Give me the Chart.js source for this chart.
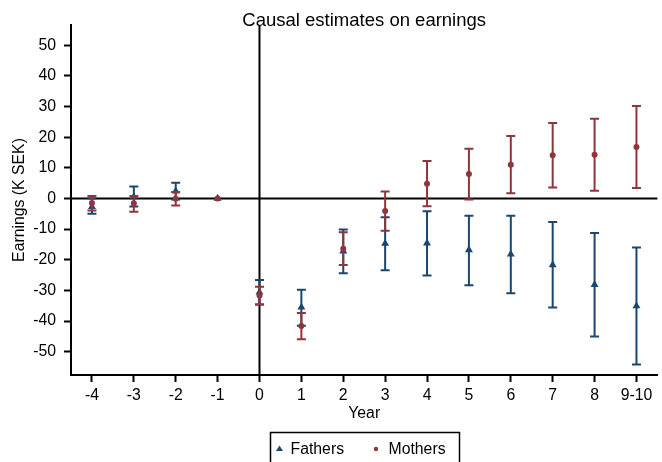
<!DOCTYPE html>
<html>
<head>
<meta charset="utf-8">
<script src="https://cdn.jsdelivr.net/npm/chart.js@4/dist/chart.umd.min.js"></script>
<style>
  html, body { margin: 0; padding: 0; background: #fff; }
  #wrap { width: 662px; height: 462px; }
</style>
</head>
<body>
<div id="wrap"><canvas id="c" width="662" height="462"></canvas></div>
<script>
// Event-study years relative to birth
const years = ['-4', '-3', '-2', '-1', '0', '1', '2', '3', '4', '5', '6', '7', '8', '9-10'];

// Fathers: point estimates and 95% confidence bounds (K SEK)
const fathersEst = [-2.7, 0.5, 2.4, 0, -30.6, -35.5, -17.2, -14.7, -14.6, -16.8, -18.2, -21.7, -28.1, -35.1];
const fathersLo  = [-5.0, -2.6, -0.3, null, -34.6, -41.5, -24.4, -23.4, -25.1, -28.3, -30.9, -35.6, -45.0, -54.2];
const fathersHi  = [0.0, 3.9, 5.1, null, -26.6, -29.8, -10.1, -6.1, -4.2, -5.6, -5.6, -7.7, -11.3, -16.0];

// Mothers: point estimates and 95% confidence bounds (K SEK)
const mothersEst = [-1.5, -1.6, -0.1, 0, -31.7, -41.6, -16.4, -4.1, 4.8, 8.0, 11.0, 14.1, 14.3, 16.8];
const mothersLo  = [-3.9, -4.3, -2.3, null, -34.6, -45.9, -21.7, -10.5, -2.5, -0.3, 1.7, 3.6, 2.5, 3.4];
const mothersHi  = [0.8, 0.8, 2.1, null, -28.8, -37.4, -11.0, 2.3, 12.2, 16.2, 20.4, 24.6, 26.0, 30.2];

// Y axis tick values
const yTicks = [-50, -40, -30, -20, -10, 0, 10, 20, 30, 40, 50];

const NAVY = '#1a476f';
const MAROON = '#90353b';
const FONT = 'Liberation Sans, Arial, Helvetica, sans-serif';

// Confidence-interval whiskers with caps, drawn under each dataset's markers
const errorBars = {
  id: 'errorBars',
  beforeDatasetDraw(chart, args) {
    const ds = chart.data.datasets[args.index];
    if (!ds.lo) return;
    const x = chart.scales.x, y = chart.scales.y, ctx = chart.ctx;
    ctx.save();
    ctx.strokeStyle = ds.borderColor;
    ctx.lineWidth = 2;
    ctx.lineCap = 'butt';
    for (let i = 0; i < ds.data.length; i++) {
      const lo = ds.lo[i], hi = ds.hi[i];
      if (lo == null || hi == null) continue;
      const px = x.getPixelForValue(i);
      const y1 = y.getPixelForValue(lo), y2 = y.getPixelForValue(hi);
      ctx.beginPath();
      ctx.moveTo(px, y1); ctx.lineTo(px, y2);
      ctx.moveTo(px - 4.5, y1); ctx.lineTo(px + 4.5, y1);
      ctx.moveTo(px - 4.5, y2); ctx.lineTo(px + 4.5, y2);
      ctx.stroke();
    }
    ctx.restore();
  }
};

// Reference lines at year 0 and at zero effect
const refLines = {
  id: 'refLines',
  beforeDatasetsDraw(chart) {
    const {ctx, chartArea: a, scales: {x, y}} = chart;
    const px = x.getPixelForValue(years.indexOf('0'));
    const py = y.getPixelForValue(0);
    ctx.save();
    ctx.strokeStyle = '#000';
    ctx.lineWidth = 2;
    ctx.beginPath();
    ctx.moveTo(px, a.top); ctx.lineTo(px, a.bottom);
    ctx.moveTo(a.left, py); ctx.lineTo(a.right, py);
    ctx.stroke();
    ctx.restore();
  }
};

// Title centred over the plot region, and a boxed legend below the axis
const decorations = {
  id: 'decorations',
  afterDraw(chart) {
    const {ctx, chartArea: a} = chart;
    const cx = (a.left + a.right) / 2;
    ctx.save();
    ctx.fillStyle = '#000';
    ctx.font = '18.5px ' + FONT;
    ctx.textAlign = 'center';
    ctx.textBaseline = 'alphabetic';
    ctx.fillText('Causal estimates on earnings', cx, 26);

    // legend
    const w = 189, left = Math.round(cx - w / 2) + 0.5, top = 432.5;
    ctx.strokeStyle = '#000';
    ctx.lineWidth = 1.5;
    ctx.strokeRect(left, top, w, 40);
    const my = 449;
    ctx.fillStyle = NAVY;
    ctx.beginPath();
    ctx.moveTo(left + 9, my - 3.5);
    ctx.lineTo(left + 12.5, my + 2);
    ctx.lineTo(left + 5.5, my + 2);
    ctx.closePath();
    ctx.fill();
    ctx.fillStyle = MAROON;
    ctx.beginPath();
    ctx.arc(left + 105.5, my, 2.2, 0, Math.PI * 2);
    ctx.fill();
    ctx.fillStyle = '#000';
    ctx.font = '15.8px ' + FONT;
    ctx.textAlign = 'left';
    ctx.textBaseline = 'middle';
    ctx.fillText('Fathers', left + 20, my + 1);
    ctx.fillText('Mothers', left + 118, my + 1);
    ctx.restore();
  }
};

new Chart(document.getElementById('c'), {
  type: 'line',
  data: {
    labels: years,
    datasets: [
      {
        label: 'Fathers',
        data: fathersEst,
        lo: fathersLo,
        hi: fathersHi,
        showLine: false,
        borderColor: NAVY,
        backgroundColor: NAVY,
        pointStyle: 'triangle',
        pointRadius: 4.6,
        pointBorderWidth: 0,
        order: 1
      },
      {
        label: 'Mothers',
        data: mothersEst,
        lo: mothersLo,
        hi: mothersHi,
        showLine: false,
        borderColor: MAROON,
        backgroundColor: MAROON,
        pointStyle: 'circle',
        pointRadius: 3,
        pointBorderWidth: 0,
        order: 0
      }
    ]
  },
  options: {
    responsive: false,
    animation: false,
    layout: { padding: { top: 25, left: 0, right: 0, bottom: 0 } },
    plugins: {
      legend: { display: false },
      title: { display: false },
      tooltip: { enabled: false }
    },
    scales: {
      x: {
        type: 'category',
        offset: true,
        afterFit(scale) { scale.height = 87; },
        grid: {
          display: true, offset: false, drawOnChartArea: false, drawTicks: true,
          tickLength: 7, tickWidth: 2, tickColor: '#000', color: '#000'
        },
        border: { display: true, color: '#000', width: 2 },
        ticks: { color: '#000', font: { family: FONT, size: 15.8 }, padding: 4, maxRotation: 0, autoSkip: false },
        title: {
          display: true, text: 'Year', color: '#000',
          font: { family: FONT, size: 15.8 }, padding: { top: 0, bottom: 39 }
        }
      },
      y: {
        min: -57.6,
        max: 56.6,
        afterFit(scale) { scale.width = 71; },
        afterBuildTicks(scale) { scale.ticks = yTicks.map(v => ({ value: v })); },
        grid: {
          display: true, drawOnChartArea: false, drawTicks: true,
          tickLength: 7, tickWidth: 2, tickColor: '#000', color: '#000'
        },
        border: { display: true, color: '#000', width: 2 },
        ticks: { color: '#000', font: { family: FONT, size: 15.8 }, padding: 8 },
        title: {
          display: true, text: 'Earnings (K SEK)', color: '#000',
          font: { family: FONT, size: 15.8 }, padding: { top: 10, bottom: 0 }
        }
      }
    }
  },
  plugins: [refLines, errorBars, decorations]
});
</script>
</body>
</html>
